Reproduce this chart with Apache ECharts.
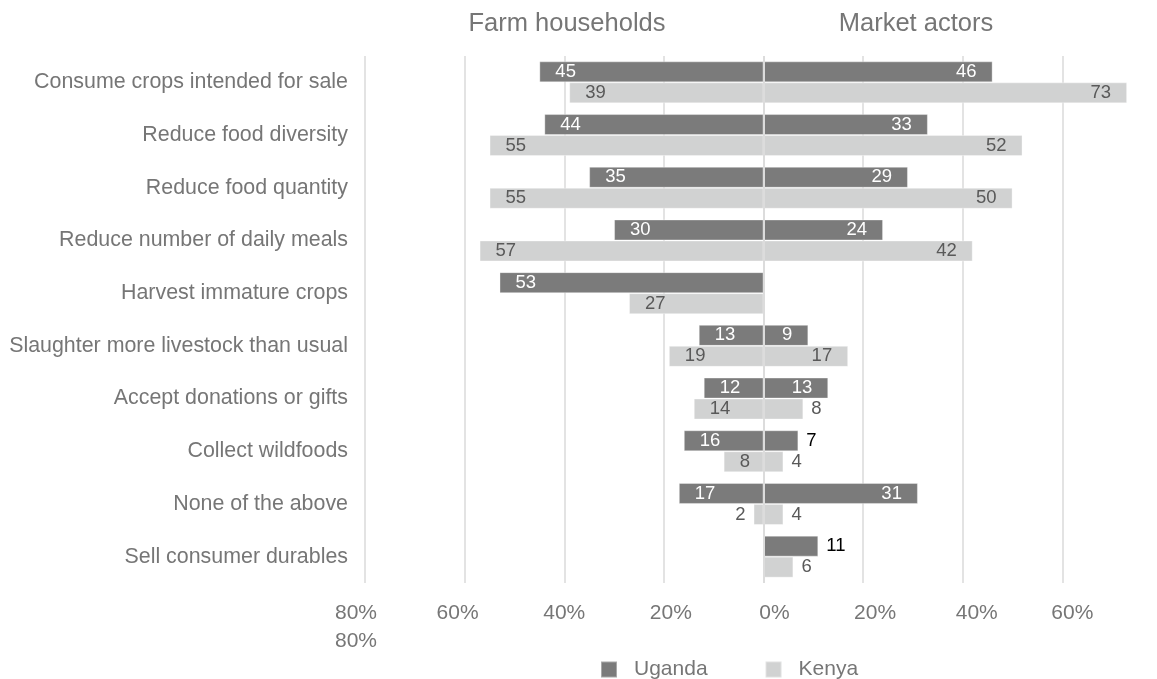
<!DOCTYPE html>
<html>
<head>
<meta charset="utf-8">
<title>Coping strategies</title>
<script src="https://cdn.jsdelivr.net/npm/echarts@6/dist/echarts.min.js"></script>
<style>
  html, body { margin: 0; padding: 0; background: #ffffff; overflow: hidden; }
  /* the plot runs to 80% just past the right edge of the window */
  #chart { width: 1165px; height: 679px; }
</style>
</head>
<body>
<div id="chart"></div>
<script>
// Coping strategies reported (share of respondents, %)
const categories = [
  'Consume crops intended for sale',
  'Reduce food diversity',
  'Reduce food quantity',
  'Reduce number of daily meals',
  'Harvest immature crops',
  'Slaughter more livestock than usual',
  'Accept donations or gifts',
  'Collect wildfoods',
  'None of the above',
  'Sell consumer durables'
];

// Farm households (drawn to the left of zero)
const ugandaFarm = [45, 44, 35, 30, 53, 13, 12, 16, 17, null];
const kenyaFarm  = [39, 55, 55, 57, 27, 19, 14, 8, 2, null];

// Market actors (drawn to the right of zero)
const ugandaMarket = [46, 33, 29, 24, null, 9, 13, 7, 31, 11];
const kenyaMarket  = [73, 52, 50, 42, null, 17, 8, 4, 4, 6];

// Labels that sit outside their bar (category indices)
const outsideLabels = {
  ugandaMarket: [7, 9],
  kenyaFarm: [8],
  kenyaMarket: [6, 7, 8, 9]
};

// Small horizontal nudges for the percentage tick labels (px)
const tickNudge = { '-80': -9, '-60': -7, '-40': 0, '-20': 7, '0': 11, '20': 12, '40': 14, '60': 10 };

const FONT = 'Liberation Sans, Arial, sans-serif';
const TEXT = '#767676';
const UGANDA = '#7b7b7b';
const KENYA = '#d1d2d2';

function buildData(values, sign, key, outsideColor) {
  const outside = outsideLabels[key] || [];
  return values.map((v, i) => {
    if (v == null) return null;
    const item = { value: sign * v };
    if (outside.indexOf(i) >= 0) {
      item.label = {
        position: sign < 0 ? 'left' : 'right',
        distance: 8,
        color: outsideColor
      };
    }
    return item;
  });
}

function barSeries(name, stack, values, sign, key, color, labelColor, outsideColor) {
  return {
    name: name,
    type: 'bar',
    stack: stack,
    barWidth: 21,
    barGap: '0%',
    itemStyle: { color: color, borderColor: 'rgba(255,255,255,0.35)', borderWidth: 1 },
    label: {
      show: true,
      position: sign < 0 ? 'insideLeft' : 'insideRight',
      distance: 16,
      color: labelColor,
      fontSize: 18.5,
      fontFamily: FONT,
      formatter: p => Math.abs(p.value)
    },
    data: buildData(values, sign, key, outsideColor)
  };
}

const richStyles = {};
Object.keys(tickNudge).forEach(k => {
  const d = tickNudge[k];
  richStyles['n' + k.replace('-', 'm')] = {
    fontSize: 21,
    color: TEXT,
    fontFamily: FONT,
    lineHeight: 28,
    padding: d >= 0 ? [0, 0, 0, 2 * d] : [0, -2 * d, 0, 0]
  };
});

const series = [
  barSeries('Uganda', 'uganda', ugandaFarm, -1, 'ugandaFarm', UGANDA, '#ffffff', '#000000'),
  barSeries('Kenya', 'kenya', kenyaFarm, -1, 'kenyaFarm', KENYA, '#595959', '#595959'),
  barSeries('Uganda', 'uganda', ugandaMarket, 1, 'ugandaMarket', UGANDA, '#ffffff', '#000000'),
  barSeries('Kenya', 'kenya', kenyaMarket, 1, 'kenyaMarket', KENYA, '#595959', '#595959')
];

// Zero line drawn over the bars
series[3].markLine = {
  silent: true,
  symbol: 'none',
  label: { show: false },
  lineStyle: { color: '#dcdcdc', width: 2, type: 'solid' },
  data: [{ xAxis: 0 }]
};

const chart = echarts.init(document.getElementById('chart'));
chart.setOption({
  backgroundColor: '#ffffff',
  animation: false,
  textStyle: { fontFamily: FONT },
  graphic: [
    {
      type: 'text', x: 567, y: 24,
      style: { text: 'Farm households', fontSize: 25.5, fill: TEXT, textAlign: 'center', textVerticalAlign: 'middle', fontFamily: FONT }
    },
    {
      type: 'text', x: 916, y: 24,
      style: { text: 'Market actors', fontSize: 25.5, fill: TEXT, textAlign: 'center', textVerticalAlign: 'middle', fontFamily: FONT }
    }
  ],
  legend: {
    left: 595,
    top: 654,
    itemWidth: 16,
    itemHeight: 16,
    itemGap: 57,
    icon: 'rect',
    data: ['Uganda', 'Kenya'],
    textStyle: { fontSize: 21, color: TEXT, fontFamily: FONT, padding: [0, 0, 10, 12] }
  },
  grid: { left: 365, right: 0, top: 56, bottom: 96 },
  xAxis: {
    type: 'value',
    min: -80,
    max: 80,
    interval: 20,
    axisLine: { show: false },
    axisTick: { show: false },
    splitLine: { show: true, lineStyle: { color: '#e3e3e3', width: 2 } },
    axisLabel: {
      margin: 16,
      formatter: v => {
        if (v === 80) return '';
        const key = 'n' + String(v).replace('-', 'm');
        const t = Math.abs(v) + '%';
        if (v === -80) return '{' + key + '|' + t + '}\n{' + key + '|' + t + '}';
        return '{' + key + '|' + t + '}';
      },
      rich: richStyles
    }
  },
  yAxis: {
    type: 'category',
    data: categories,
    inverse: true,
    axisLine: { show: false },
    axisTick: { show: false },
    splitLine: { show: false },
    axisLabel: { fontSize: 21.4, color: TEXT, fontFamily: FONT, margin: 17 }
  },
  series: series
});
</script>
</body>
</html>
